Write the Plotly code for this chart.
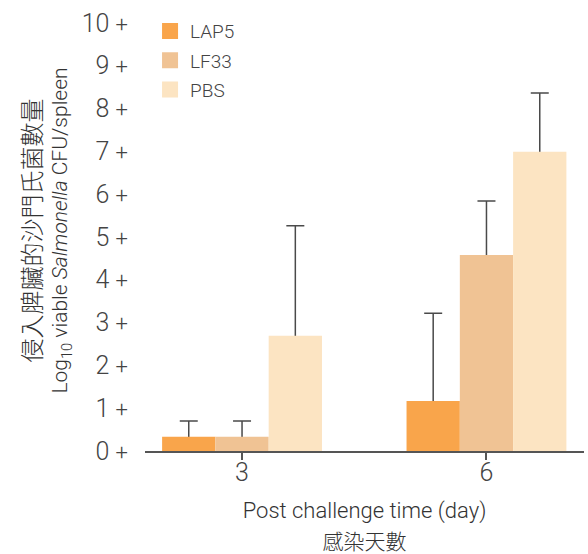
import plotly.graph_objects as go

days = ["3", "6"]
groups = ["LAP5", "LF33", "PBS"]
lap5 = [0.33, 1.17]
lap5_err = [0.37, 2.05]
lf33 = [0.33, 4.58]
lf33_err = [0.37, 1.26]
pbs = [2.69, 6.99]
pbs_err = [2.57, 1.37]
colors = ["#F9A54B", "#F0C394", "#FCE4C2"]
yticks = list(range(0, 11))

fig = go.Figure()
series = list(zip(groups, [lap5, lf33, pbs], [lap5_err, lf33_err, pbs_err], colors))

# error bars (drawn first, so the coloured bars hide the lower cap)
for name, vals, errs, col in series:
    fig.add_trace(go.Bar(
        x=days, y=vals, name=name, offsetgroup=name, showlegend=False,
        marker=dict(color="rgba(0,0,0,0)", line=dict(width=0)),
        error_y=dict(type="data", array=errs, symmetric=False, arrayminus=[0.06]*len(errs),
                     color="#4a4a4a", thickness=1.5, width=9),
        hoverinfo="skip",
    ))
# coloured bars
for name, vals, errs, col in series:
    fig.add_trace(go.Bar(
        x=days, y=vals, name=name, offsetgroup=name, showlegend=False,
        marker=dict(color=col, line=dict(width=0)),
    ))
# legend entries
for name, vals, errs, col in series:
    fig.add_trace(go.Scatter(
        x=[None], y=[None], mode="markers", name=name, legendgroup=name,
        marker=dict(symbol="square", size=16, color=col),
    ))

tick_font = dict(family="Roboto", size=25, color="#444444", weight=300)

fig.update_layout(
    width=588, height=554,
    barmode="group", bargap=0.346, bargroupgap=0,
    plot_bgcolor="white", paper_bgcolor="white",
    margin=dict(l=145, r=4, t=10, b=103),
    font=dict(family="Roboto, 'Noto Sans CJK TC', sans-serif", color="#444444"),
    showlegend=True,
    legend=dict(x=0.0115, y=0.995, xanchor="left", yanchor="top",
                font=dict(family="Roboto", size=19, color="#444444", weight=300),
                traceorder="grouped", tracegroupgap=1.5, bgcolor="rgba(0,0,0,0)"),
    xaxis=dict(
        type="category", range=[-0.397, 1.399], automargin=False,
        showline=True, linecolor="#555555", linewidth=1.5,
        ticks="outside", ticklen=7, tickcolor="#555555", tickwidth=1.5,
        tickfont=tick_font, ticklabelstandoff=-9,
        title=dict(text="<span style='font-size:22px'>Post challenge time (day)</span><br><span style='font-size:21px'>感染天數</span>",
                   font=dict(family="Roboto, 'Noto Sans CJK TC'", size=24, color="#333333", weight=300),
                   standoff=21),
    ),
    yaxis=dict(
        range=[0, 10.3], showline=False, showgrid=False, zeroline=False, automargin=False,
        tickvals=yticks,
        ticktext=[f"{v} <span style='font-size:22px'>+</span>" for v in yticks],
        tickfont=tick_font,
        ticks="outside", ticklen=11, tickcolor="rgba(0,0,0,0)",
        title=dict(text="<span style='font-size:24px'>侵入脾臟的沙門氏菌數量</span><br><span style='font-size:21px'>Log<sub>10</sub> viable <i>Salmonella</i> CFU/spleen</span>",
                   font=dict(family="Roboto, 'Noto Sans CJK TC'", size=20, color="#333333", weight=300),
                   standoff=8),
    ),
)

fig.write_html("out.html", config={"displayModeBar": False},
               post_script="document.body.style.margin='0';")
